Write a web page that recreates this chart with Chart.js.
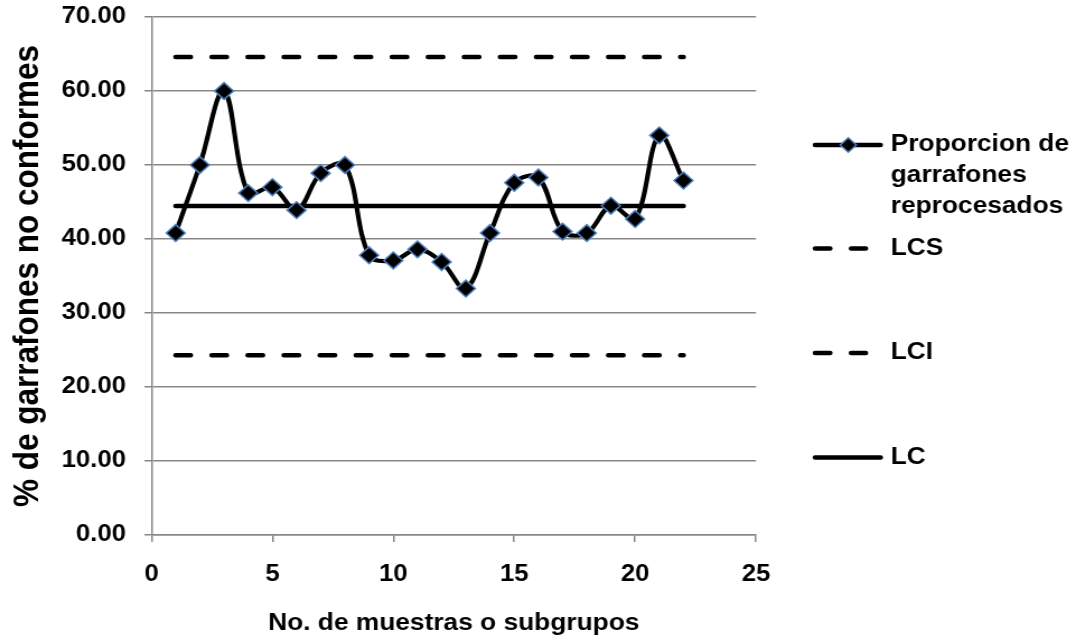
<!DOCTYPE html>
<html>
<head>
<meta charset="utf-8">
<script src="https://cdn.jsdelivr.net/npm/chart.js@4/dist/chart.umd.min.js"></script>
<style>
  html, body { margin: 0; padding: 0; background: #ffffff; overflow: hidden; }
  #wrap { width: 1076px; height: 643px; overflow: hidden; }
  /* the chart is laid out on a narrower canvas and widened to the page */
  #chart { display: block; transform-origin: 0 0; }
</style>
</head>
<body>
<div id="wrap"><canvas id="chart" width="961" height="643"></canvas></div>
<script>
// Subgroup numbers (x axis)
const subgroups = [1, 2, 3, 4, 5, 6, 7, 8, 9, 10, 11, 12, 13, 14, 15, 16, 17, 18, 19, 20, 21, 22];
// Percentage of non-conforming jugs per subgroup
const proportion = [40.8, 50.0, 60.0, 46.2, 47.0, 43.9, 48.9, 50.0, 37.8, 37.1, 38.6,
                    36.9, 33.3, 40.8, 47.6, 48.3, 41.0, 40.8, 44.5, 42.7, 54.0, 47.9];
// Control limits
const upperLimit = 64.6;   // LCS
const lowerLimit = 24.3;   // LCI
const centerLine = 44.46;  // LC
// Axis ticks
const yTicks = [0, 10, 20, 30, 40, 50, 60, 70];
const xTicks = [0, 5, 10, 15, 20, 25];
// Series names
const seriesNames = ['Proporcion de garrafones reprocesados', 'LCS', 'LCI', 'LC'];

const STRETCH = 1076 / 961;
document.getElementById('chart').style.transform = 'scaleX(' + STRETCH + ')';

const FONT = '"Liberation Sans", Arial, Helvetica, sans-serif';
const GRID = '#878787';

const pts = vals => subgroups.map((x, i) => ({ x: x, y: vals[i] }));
const flat = v => subgroups.map(x => ({ x: x, y: v }));

// Legend drawn at the right side, wrapping long names
const sideLegend = {
  id: 'sideLegend',
  afterDraw(chart) {
    const ctx = chart.ctx;
    const rows = [145, 248.5, 353, 457.5];
    const x0 = 725.8, x1 = 788.6, tx = 795.5, lh = 31, maxW = 163;
    ctx.save();
    ctx.font = 'bold 23.5px ' + FONT;
    ctx.fillStyle = '#000';
    ctx.textBaseline = 'middle';
    ctx.textAlign = 'left';
    chart.data.datasets.forEach((ds, i) => {
      const y = rows[i];
      ctx.save();
      ctx.strokeStyle = '#000';
      ctx.lineWidth = 4.5;
      ctx.lineCap = 'round';
      ctx.beginPath();
      if (ds.borderDash && ds.borderDash.length) {
        ctx.setLineDash(ds.borderDash);
        ctx.moveTo(x0 + 2.2, y);
        ctx.lineTo(773.2, y);
      } else {
        ctx.moveTo(x0 + 2.2, y);
        ctx.lineTo(x1 - 2.2, y);
      }
      ctx.stroke();
      if (ds.pointRadius > 0) {
        const cx = (x0 + x1) / 2 + 0.4, r = 7.2;
        ctx.setLineDash([]);
        ctx.beginPath();
        ctx.moveTo(cx, y - r);
        ctx.lineTo(cx + r, y);
        ctx.lineTo(cx, y + r);
        ctx.lineTo(cx - r, y);
        ctx.closePath();
        ctx.fillStyle = '#000';
        ctx.fill();
        ctx.lineWidth = 1.5;
        ctx.strokeStyle = '#4a7ebb';
        ctx.stroke();
      }
      ctx.restore();
      // wrap the label
      const words = ds.label.split(' ');
      const lines = [];
      let cur = '';
      words.forEach(w => {
        const t = cur ? cur + ' ' + w : w;
        if (ctx.measureText(t).width > maxW && cur) { lines.push(cur); cur = w; }
        else cur = t;
      });
      if (cur) lines.push(cur);
      lines.forEach((ln, k) => ctx.fillText(ln, tx, y + k * lh));
    });
    ctx.restore();
  }
};

const limitLine = (label, v, dashed) => ({
  label: label,
  data: flat(v),
  borderColor: '#000',
  borderWidth: 4.5,
  borderCapStyle: 'round',
  borderDash: dashed ? [13.4, 18.8] : [],
  pointRadius: 0,
  pointHoverRadius: 0,
  tension: 0,
  fill: false
});

new Chart(document.getElementById('chart'), {
  type: 'line',
  data: {
    datasets: [
      {
        label: seriesNames[0],
        data: pts(proportion),
        borderColor: '#000',
        borderWidth: 4.2,
        tension: 0.36,
        pointStyle: 'rectRot',
        pointRadius: 8.4,
        pointBackgroundColor: '#000',
        pointBorderColor: '#4a7ebb',
        pointBorderWidth: 1.5,
        fill: false
      },
      limitLine(seriesNames[1], upperLimit, true),
      limitLine(seriesNames[2], lowerLimit, true),
      limitLine(seriesNames[3], centerLine, false)
    ]
  },
  options: {
    responsive: false,
    animation: false,
    devicePixelRatio: 1,
    layout: { padding: { left: 0, right: 285.8, top: 17, bottom: 0 } },
    plugins: {
      legend: { display: false },
      tooltip: { enabled: false }
    },
    scales: {
      x: {
        type: 'linear',
        min: xTicks[0],
        max: xTicks[xTicks.length - 1],
        afterBuildTicks: s => { s.ticks = xTicks.map(v => ({ value: v })); },
        afterFit: s => { s.height = 108; },
        grid: { drawOnChartArea: false, drawTicks: true, tickLength: 7, color: GRID, lineWidth: 1.5 },
        border: { display: true, color: GRID, width: 1.5 },
        ticks: {
          color: '#000', padding: 19, maxRotation: 0, autoSkip: false,
          font: { family: FONT, size: 23, weight: 'bold' }
        },
        title: {
          display: true,
          text: 'No. de muestras o subgrupos',
          color: '#000',
          padding: { top: 0, bottom: 5 },
          font: { family: FONT, size: 23.5, weight: 'bold' }
        }
      },
      y: {
        min: yTicks[0],
        max: yTicks[yTicks.length - 1],
        afterBuildTicks: s => { s.ticks = yTicks.map(v => ({ value: v })); },
        afterFit: s => { s.width = 135.3; s.paddingTop = 12; s.paddingBottom = 12; },
        grid: { drawOnChartArea: true, drawTicks: true, tickLength: 6.3, color: GRID, lineWidth: 1.5 },
        border: { display: true, color: GRID, width: 1.5 },
        ticks: {
          color: '#000', padding: 16.5, autoSkip: false,
          callback: v => Number(v).toFixed(2),
          font: { family: FONT, size: 23, weight: 'bold' }
        },
        title: {
          display: true,
          text: '% de garrafones no conformes',
          color: '#000',
          padding: { top: 6, bottom: 0 },
          font: { family: FONT, size: 31.5, weight: 'bold' }
        }
      }
    }
  },
  plugins: [sideLegend]
});
</script>
</body>
</html>
